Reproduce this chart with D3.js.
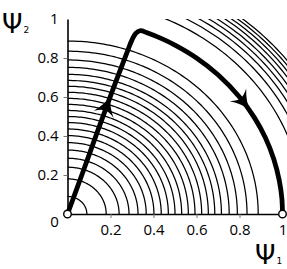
<!DOCTYPE html>
<html>
<head>
<meta charset="utf-8">
<script src="https://cdn.jsdelivr.net/npm/d3@7"></script>
<style>
  body { margin: 0; background: #fff; }
  svg { display: block; }
</style>
</head>
<body>
<div id="chart"></div>
<script>
// tick values on both axes
const xTicks = [0.2, 0.4, 0.6, 0.8, 1];
const yTicks = [0.2, 0.4, 0.6, 0.8, 1];

// contour radii (inside and outside the unit circle)
const innerRadii = [0.09, 0.18, 0.24, 0.286, 0.328, 0.366, 0.402, 0.436, 0.469, 0.5, 0.531,
  0.562, 0.593, 0.624, 0.655, 0.685, 0.716, 0.752, 0.79, 0.835, 0.887];
const outerRadii = [1.1, 1.143, 1.173, 1.197, 1.219, 1.24, 1.258, 1.275, 1.29];

// thick trajectory (psi1, psi2)
const trajectory = [
  [0, 0], [0.07, 0.21], [0.14, 0.425], [0.21, 0.635], [0.28, 0.838], [0.3, 0.893],
  [0.318, 0.927], [0.34, 0.94], [0.37, 0.929], [0.43, 0.903], [0.5, 0.866], [0.6, 0.8],
  [0.7, 0.714], [0.8, 0.6], [0.87, 0.493], [0.92, 0.392], [0.96, 0.28], [0.985, 0.172],
  [0.997, 0.08], [1, 0]
];
const arrowAt = [[0.18, 0.55], [0.815, 0.578]];
const fixedPoints = [[0, 0], [1, 0]];

const width = 287, height = 269;
const x = d3.scaleLinear().domain([0, 1]).range([67.5, 282.5]);
const y = d3.scaleLinear().domain([0, 1]).range([214, 19]);

const svg = d3.select("#chart").append("svg")
  .attr("width", width)
  .attr("height", height)
  .style("font-family", "'Open Sans', sans-serif");

svg.append("clipPath").attr("id", "plot-clip")
  .append("rect")
  .attr("x", x(0)).attr("y", y(1))
  .attr("width", width - x(0)).attr("height", y(0) - y(1));

// contours
const arc = d3.line().x(d => x(d[0])).y(d => y(d[1]));
const angles = d3.range(0, 91, 1).map(a => a * Math.PI / 180);
const circlePts = r => angles.map(t => [r * Math.cos(t), r * Math.sin(t)]);

const contours = svg.append("g")
  .attr("clip-path", "url(#plot-clip)")
  .attr("fill", "none")
  .attr("stroke", "#000")
  .attr("stroke-width", 1.25);

contours.selectAll("path.inner")
  .data(innerRadii)
  .join("path")
  .attr("class", "inner")
  .attr("d", r => arc(circlePts(r)));

contours.selectAll("path.outer")
  .data(outerRadii)
  .join("path")
  .attr("class", "outer")
  .attr("d", r => arc(circlePts(r)));

// axes
const xAxis = svg.append("g")
  .attr("transform", `translate(0,${y(0)})`)
  .call(d3.axisBottom(x).tickValues(xTicks).tickSize(4).tickSizeOuter(0)
    .tickFormat(d => d === 1 ? "1" : d3.format(".1f")(d)));
const yAxis = svg.append("g")
  .attr("transform", `translate(${x(0)},0)`)
  .call(d3.axisLeft(y).tickValues(yTicks).tickSize(4).tickSizeOuter(0)
    .tickFormat(d => d === 1 ? "1" : d3.format(".1f")(d)));

[xAxis, yAxis].forEach(g => {
  g.select(".domain").attr("stroke", "#000").attr("stroke-width", 1.6);
  g.selectAll(".tick line").attr("stroke", "#777").attr("stroke-width", 1);
  g.selectAll(".tick text")
    .attr("fill", "#000")
    .style("font-family", "'Open Sans', sans-serif")
    .style("font-size", "15px");
});
xAxis.selectAll(".tick text").attr("dy", "0.95em");
xAxis.selectAll(".tick").filter(d => d === 1).select("line").remove();
yAxis.selectAll(".tick text").attr("x", -9);
yAxis.selectAll(".tick").filter(d => d === 1).select("line").remove();

svg.append("text")
  .attr("x", x(0) - 13).attr("y", y(0) + 13)
  .attr("text-anchor", "middle")
  .style("font-size", "15px")
  .text("0");

// trajectory
const trajLine = d3.line()
  .x(d => x(d[0])).y(d => y(d[1]))
  .curve(d3.curveCatmullRom.alpha(0.5));

const path = svg.append("path")
  .datum(trajectory)
  .attr("fill", "none")
  .attr("stroke", "#000")
  .attr("stroke-width", 4.8)
  .attr("stroke-linejoin", "round")
  .attr("d", trajLine);

// arrowheads placed on the trajectory nearest to the read positions
const node = path.node();
const total = node.getTotalLength();
arrowAt.forEach(p => {
  const px = x(p[0]), py = y(p[1]);
  let best = 0, bestD = Infinity;
  for (let l = 0; l <= total; l += 0.5) {
    const q = node.getPointAtLength(l);
    const dd = (q.x - px) ** 2 + (q.y - py) ** 2;
    if (dd < bestD) { bestD = dd; best = l; }
  }
  const a = node.getPointAtLength(Math.max(0, best - 2));
  const b = node.getPointAtLength(Math.min(total, best + 2));
  const c = node.getPointAtLength(best);
  const ang = Math.atan2(b.y - a.y, b.x - a.x) * 180 / Math.PI;
  svg.append("path")
    .attr("transform", `translate(${c.x},${c.y}) rotate(${ang})`)
    .attr("d", "M12,0 Q2,-2 -8,-10.5 Q-3,-3 -4,0 Q-3,3 -8,10.5 Q2,2 12,0Z")
    .attr("fill", "#000");
});

// fixed points
svg.selectAll("circle.fixed")
  .data(fixedPoints)
  .join("circle")
  .attr("class", "fixed")
  .attr("cx", d => x(d[0]))
  .attr("cy", d => y(d[1]))
  .attr("r", 3.8)
  .attr("fill", "#fff")
  .attr("stroke", "#000")
  .attr("stroke-width", 1.4);

// axis titles
const psi = (tx, ty, sub) => {
  const t = svg.append("text")
    .attr("x", tx).attr("y", ty)
    .style("font-family", "'DejaVu Sans', sans-serif");
  t.append("tspan").style("font-size", "26px").text("Ψ");
  t.append("tspan").style("font-size", "9px").attr("dx", 1).text(sub);
};
psi(2, 33, "2");
psi(255, 264, "1");
</script>
</body>
</html>
